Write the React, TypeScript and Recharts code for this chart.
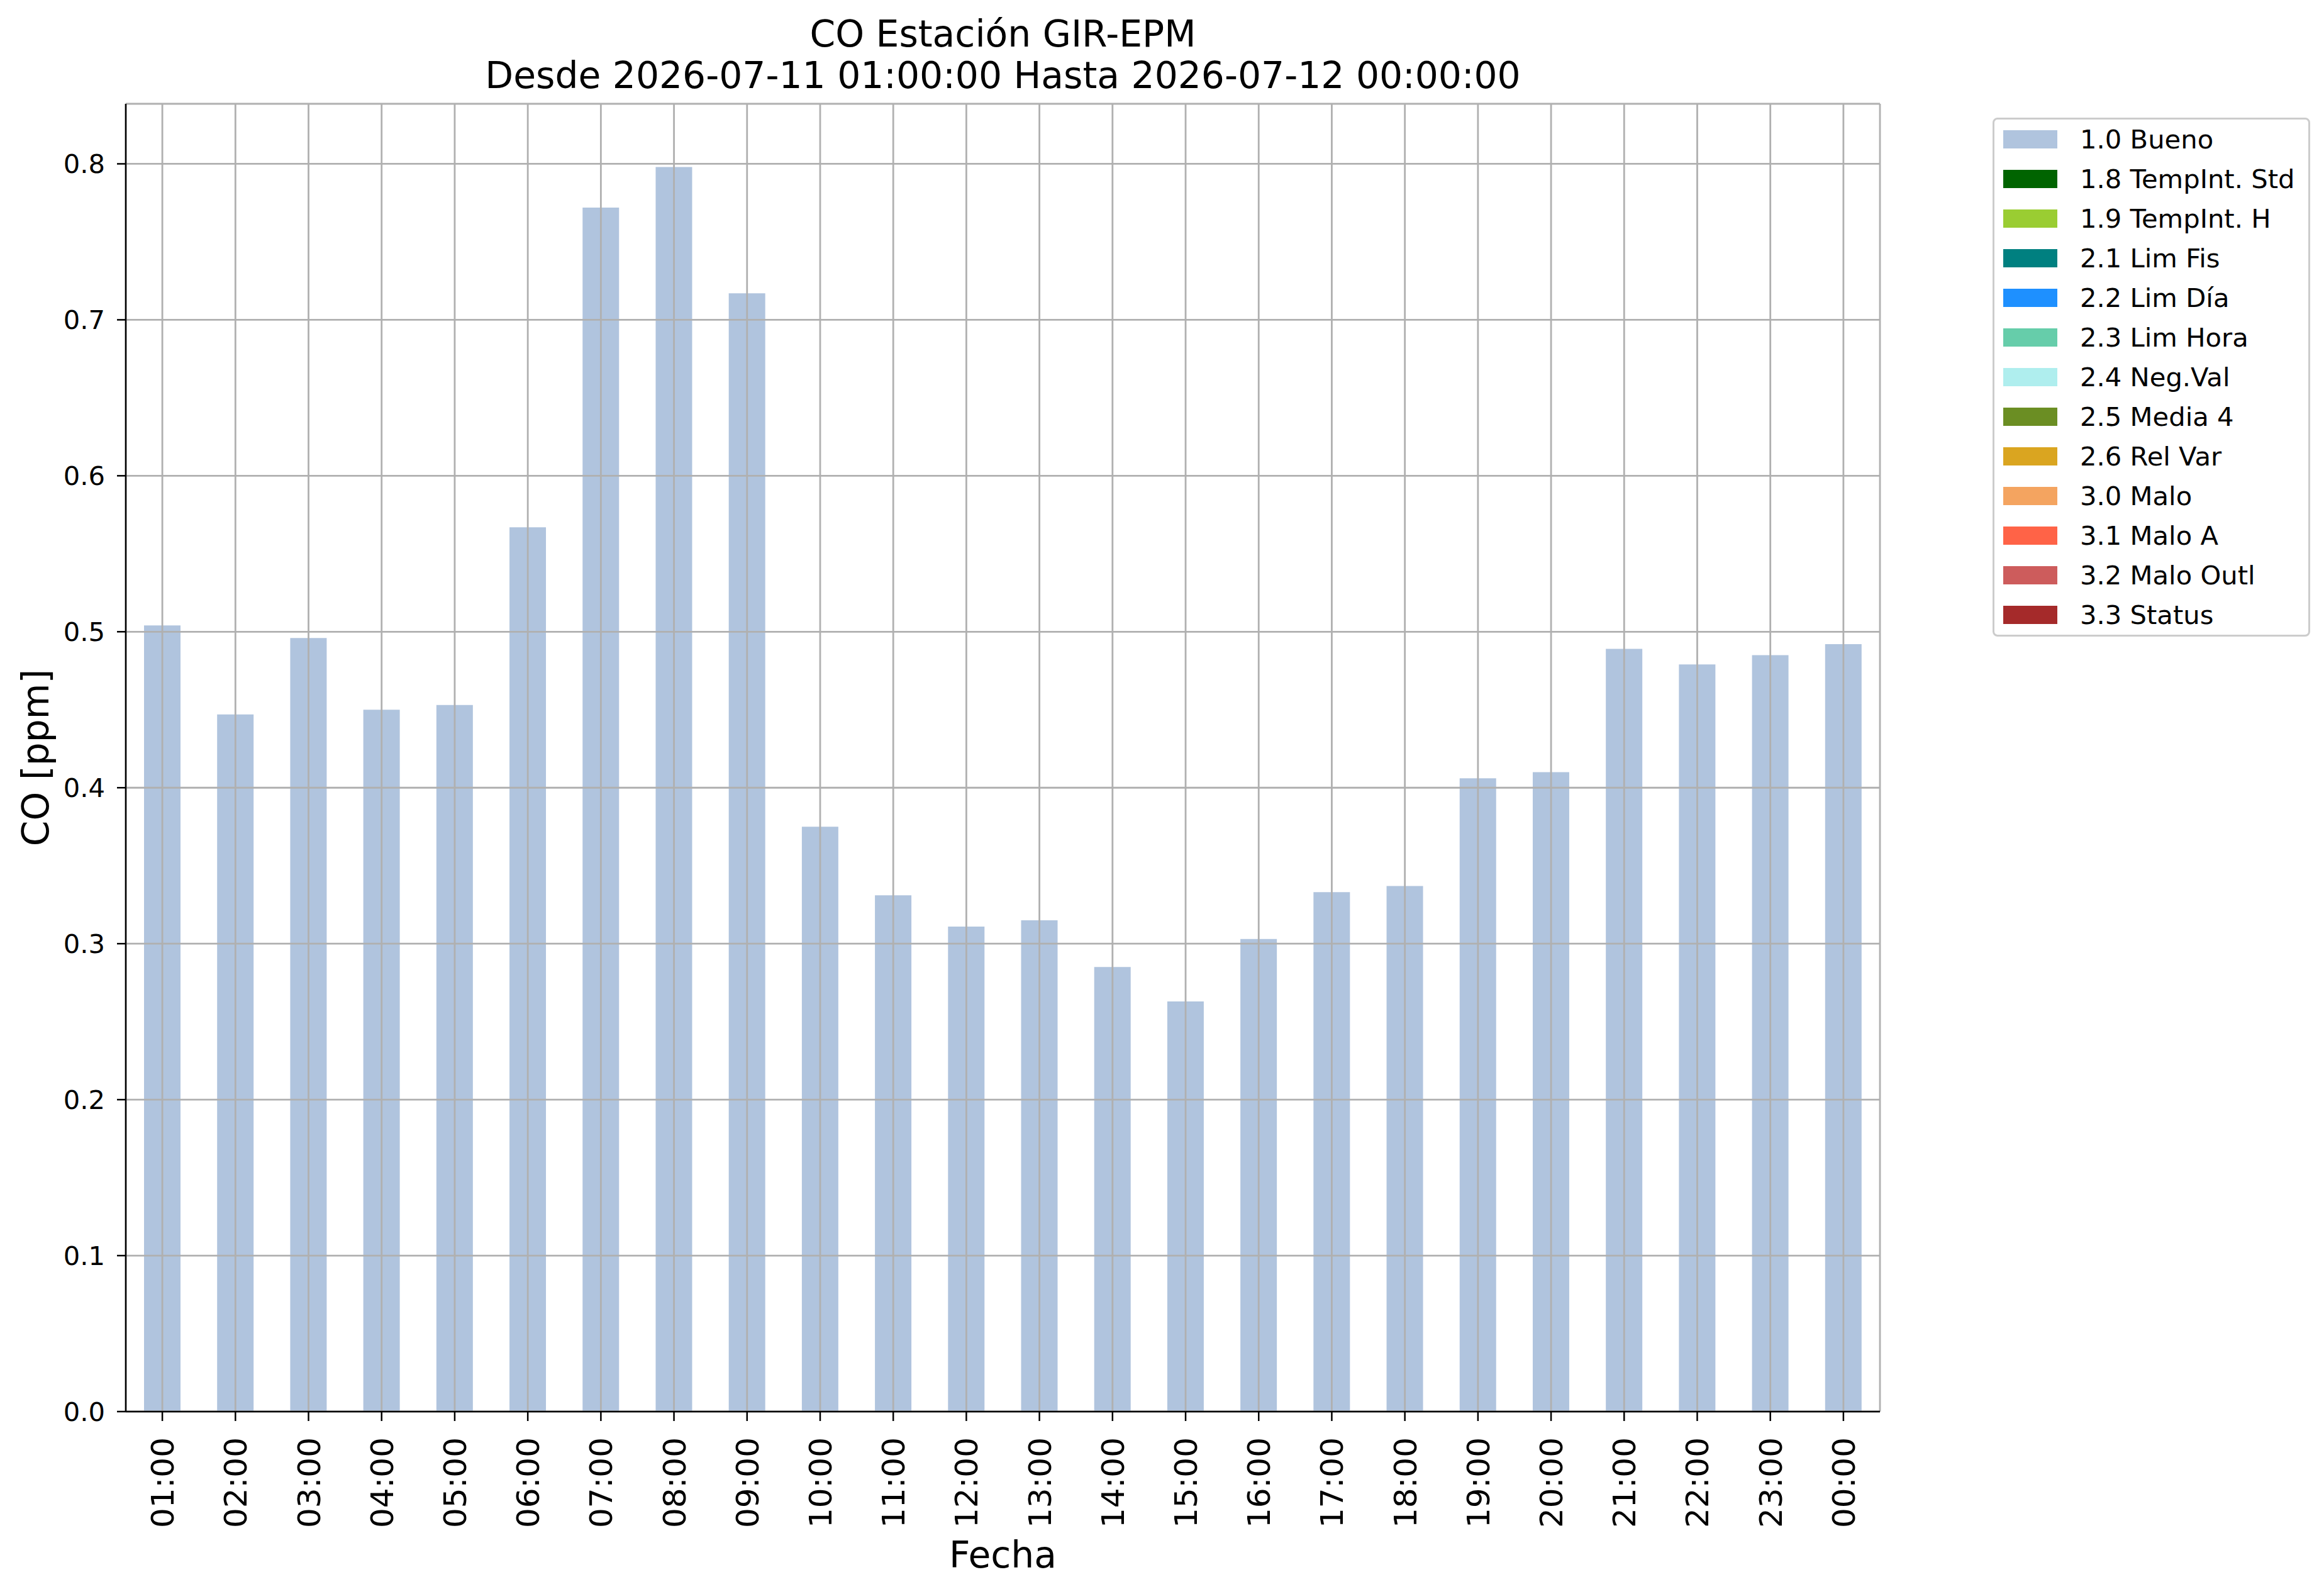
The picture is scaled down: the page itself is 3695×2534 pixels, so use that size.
import React from "react";
import { BarChart, Bar, XAxis, YAxis, CartesianGrid, Legend } from "recharts";

const FONT = "'DejaVu Sans', sans-serif";

// hourly CO values (ppm), flag 1.0 Bueno
const hours = [
  "01:00", "02:00", "03:00", "04:00", "05:00", "06:00", "07:00", "08:00",
  "09:00", "10:00", "11:00", "12:00", "13:00", "14:00", "15:00", "16:00",
  "17:00", "18:00", "19:00", "20:00", "21:00", "22:00", "23:00", "00:00",
];
const bueno = [
  0.504, 0.447, 0.496, 0.45, 0.453, 0.567, 0.772, 0.798,
  0.717, 0.375, 0.331, 0.311, 0.315, 0.285, 0.263, 0.303,
  0.333, 0.337, 0.406, 0.41, 0.489, 0.479, 0.485, 0.492,
];

// quality flags shown in the legend
const flagKeys = ["f10", "f18", "f19", "f21", "f22", "f23", "f24", "f25", "f26", "f30", "f31", "f32", "f33"];
const flagNames = [
  "1.0 Bueno", "1.8 TempInt. Std", "1.9 TempInt. H", "2.1 Lim Fis", "2.2 Lim Día",
  "2.3 Lim Hora", "2.4 Neg.Val", "2.5 Media 4", "2.6 Rel Var", "3.0 Malo",
  "3.1 Malo A", "3.2 Malo Outl", "3.3 Status",
];
const flagColors = [
  "#B0C4DE", "#006400", "#9ACD32", "#008080", "#1E90FF", "#66CDAA", "#AFEEEE",
  "#6B8E23", "#DAA520", "#F4A460", "#FF6347", "#CD5C5C", "#A52A2A",
];

const yTicks = [0, 0.1, 0.2, 0.3, 0.4, 0.5, 0.6, 0.7, 0.8];
const yMax = 0.8385;

const titleLines = ["CO Estación GIR-EPM", "Desde 2026-07-11 01:00:00 Hasta 2026-07-12 00:00:00"];

const data = hours.map((h, i) => ({ hour: h, f10: bueno[i] }));

function XTick({ x, y, payload }: any) {
  return (
    <text
      x={x}
      y={y}
      transform={`rotate(-90 ${x} ${y})`}
      textAnchor="end"
      dy="0.36em"
      fontSize={50}
      fontFamily={FONT}
      fill="#000"
    >
      {payload.value}
    </text>
  );
}

function YLabel({ viewBox, value }: any) {
  const cx = (viewBox?.x ?? 0) + 77;
  const cy = (viewBox?.y ?? 0) + (viewBox?.height ?? 0) / 2;
  return (
    <text x={cx} y={cy} transform={`rotate(-90 ${cx} ${cy})`} textAnchor="middle" fontSize={58.3} fontFamily={FONT} fill="#000">
      {value}
    </text>
  );
}

function LegendBox({ payload }: any) {
  const items = payload && payload.length ? payload : flagNames.map((n, i) => ({ value: n, color: flagColors[i] }));
  return (
    <div
      style={{
        boxSizing: "border-box",
        width: 505,
        height: 825,
        border: "3px solid #cccccc",
        borderRadius: 8,
        background: "#fff",
        position: "relative",
      }}
    >
      {items.map((it: any, i: number) => (
        <div
          key={it.value}
          style={{ position: "absolute", left: 14, top: 63 * i, height: 63, display: "flex", alignItems: "center" }}
        >
          <div style={{ width: 86, height: 29, background: it.color }} />
          <span style={{ marginLeft: 36, fontSize: 41.7, lineHeight: 1, fontFamily: FONT, whiteSpace: "nowrap", color: "#000" }}>
            {it.value}
          </span>
        </div>
      ))}
    </div>
  );
}

export default function App() {
  const axisStroke = { stroke: "#000", strokeWidth: 2.5 };
  return (
    <div style={{ position: "absolute", left: 0, top: 0, width: 3695, height: 2534, background: "#fff", fontFamily: FONT }}>
      <div
        style={{
          position: "absolute",
          left: 200,
          top: 21,
          width: 2789,
          textAlign: "center",
          fontSize: 58.3,
          lineHeight: "66px",
          color: "#000",
          whiteSpace: "nowrap",
        }}
      >
        {titleLines[0]}
        <br />
        {titleLines[1]}
      </div>
      <BarChart
        width={3695}
        height={2534}
        data={data}
        margin={{ top: 165, right: 706, bottom: 0, left: 0 }}
        barCategoryGap={0}
      >
        <XAxis
          dataKey="hour"
          height={290}
          interval={0}
          tickSize={15}
          tickMargin={26}
          tick={<XTick />}
          tickLine={axisStroke}
          axisLine={axisStroke}
          label={{ value: "Fecha", position: "insideBottom", offset: 42, fontSize: 58.3, fontFamily: FONT, fill: "#000" }}
        />
        <XAxis xAxisId="top" dataKey="hour" orientation="top" height={0} tick={false} tickLine={false} axisLine={axisStroke} />
        <YAxis
          width={200}
          domain={[0, yMax]}
          ticks={yTicks}
          interval={0}
          tickSize={14}
          tickMargin={19}
          tickFormatter={(v: number) => v.toFixed(1)}
          tick={{ fontSize: 41.7, fontFamily: FONT, fill: "#000" }}
          tickLine={axisStroke}
          axisLine={axisStroke}
          label={<YLabel value="CO [ppm]" />}
        />
        <YAxis yAxisId="right" orientation="right" width={0} domain={[0, yMax]} tick={false} tickLine={false} axisLine={axisStroke} />
        {flagKeys.map((k, i) => (
          <Bar
            key={k}
            dataKey={k}
            name={flagNames[i]}
            stackId="q"
            fill={flagColors[i]}
            barSize={58}
            zIndex={100}
            isAnimationActive={false}
          />
        ))}
        <CartesianGrid stroke="#b0b0b0" strokeWidth={2.8} zIndex={200} />
        <Legend
          layout="horizontal"
          verticalAlign="middle"
          align="center"
          wrapperStyle={{ left: 3168, top: 187, width: 505, height: 825 }}
          content={<LegendBox />}
        />
      </BarChart>
    </div>
  );
}
